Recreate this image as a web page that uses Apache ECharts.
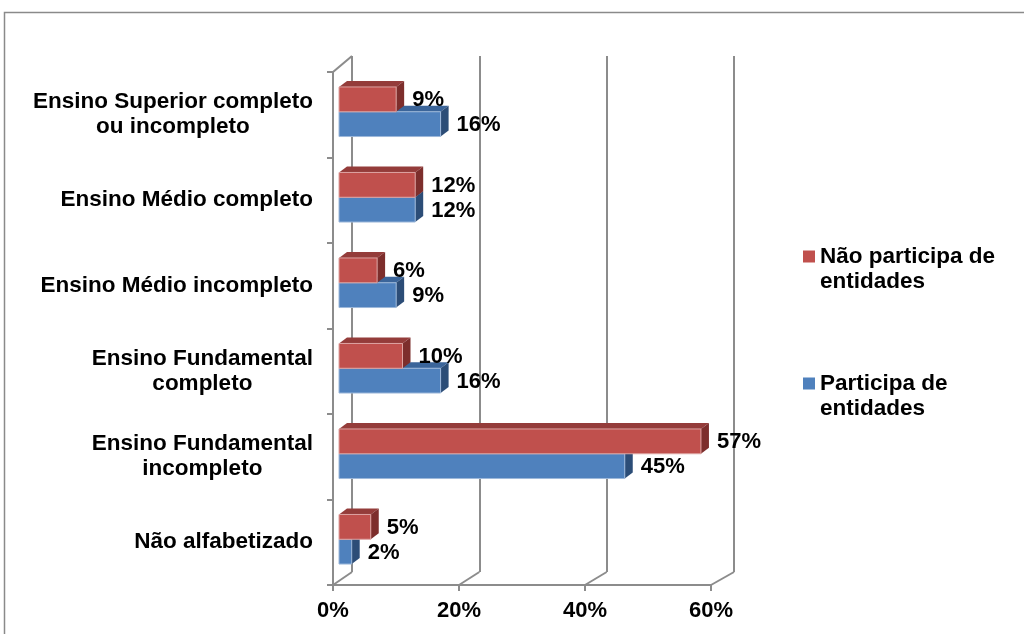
<!DOCTYPE html>
<html><head><meta charset="utf-8">
<script src="https://cdn.jsdelivr.net/npm/echarts@6/dist/echarts.min.js"></script>
<style>html,body{margin:0;padding:0;background:#fff}#c{width:1024px;height:634px}</style>
</head><body><div id="c"></div>
<script>
const categories = ['Ensino Superior completo\nou incompleto','Ensino Médio completo','Ensino Médio incompleto','Ensino Fundamental\ncompleto','Ensino Fundamental\nincompleto','Não alfabetizado'];
const participa = [16,12,9,16,45,2];
const naoParticipa = [9,12,6,10,57,5];
const xTicks = [0,20,40,60];
const seriesNames = ['Participa de\nentidades','Não participa de\nentidades'];

const FONT = "'Liberation Sans', Arial, sans-serif";
const GRAY = '#8c8c8c';
const palBlue = {front:'#4F81BD', top:'#3B659A', side:'#2C4D77', edge:'#9DB8DA'};
const palRed = {front:'#C0504D', top:'#943C3A', side:'#7D2E2C', edge:'#DDA3A1'};

function barRender(pal, upper){
  return function(params, api){
    const v = api.value(0), idx = api.value(1);
    const p0 = api.coord([0, idx]);
    const p1 = api.coord([v, idx]);
    const band = api.size([0,1])[1];
    const h = band*0.29;
    const yTop = upper ? p0[1]-3-h : p0[1]-3;
    const x0 = p0[0], x1 = p1[0];
    const dx = 8, dy = -6;
    return {type:'group', children:[
      {type:'polygon', shape:{points:[[x0,yTop],[x1,yTop],[x1+dx,yTop+dy],[x0+dx,yTop+dy]]}, style:{fill:pal.top}},
      {type:'polygon', shape:{points:[[x1,yTop],[x1+dx,yTop+dy],[x1+dx,yTop+h+dy],[x1,yTop+h]]}, style:{fill:pal.side}},
      {type:'rect', shape:{x:x0,y:yTop,width:x1-x0,height:h}, style:{fill:pal.front, stroke:pal.edge, lineWidth:1}},
      {type:'text', style:{text:v+'%', x:x1+16, y:yTop+h/2+1, verticalAlign:'middle', align:'left', fontSize:22, fontWeight:'bold', fontFamily:FONT, fill:'#000'}}
    ]};
  };
}

const option = {
  animation:false,
  backgroundColor:'#fff',
  graphic:[{type:'rect', shape:{x:4.5,y:12.5,width:1200,height:800}, style:{fill:'none', stroke:'#8a8a8a', lineWidth:1.5}, z:-10}],
  legend:{
    orient:'vertical', left:803, top:219, padding:0, itemWidth:12, itemHeight:12, itemGap:52, icon:'rect', selectedMode:false,
    data:[seriesNames[1], seriesNames[0]],
    formatter:function(name){ return '\n'+name; },
    textStyle:{fontSize:22.5, fontWeight:'bold', fontFamily:FONT, color:'#000', lineHeight:25}
  },
  grid:[
    {left:333, top:72, width:378, height:513},
    {left:352, top:56, width:382, height:516},
    {left:339, top:72, width:381, height:513}
  ],
  xAxis:[
    {gridIndex:0, type:'value', min:0, max:60, interval:20,
     axisLine:{show:true, lineStyle:{color:GRAY, width:2}},
     axisTick:{show:true, length:6, lineStyle:{color:GRAY, width:2}},
     splitLine:{show:false},
     axisLabel:{formatter:'{value}%', fontSize:22, fontWeight:'bold', fontFamily:FONT, color:'#000', margin:15}},
    {gridIndex:1, type:'value', min:0, max:60, interval:20,
     axisLine:{show:false}, axisTick:{show:false}, axisLabel:{show:false},
     splitLine:{show:true, lineStyle:{color:GRAY, width:2}}},
    {gridIndex:2, type:'value', min:0, max:60, show:false}
  ],
  yAxis:[
    {gridIndex:0, type:'category', data:categories, inverse:true,
     axisLine:{show:true, lineStyle:{color:GRAY, width:2}},
     axisTick:{show:true, length:6, alignWithLabel:false, lineStyle:{color:GRAY, width:2}},
     splitLine:{show:false},
     axisLabel:{margin:20, color:'#000',
       formatter:function(val){ return val.split('\n').map(l=>'{c|'+l+'}').join('\n'); },
       rich:{c:{align:'center', fontSize:22.5, fontWeight:'bold', fontFamily:FONT, color:'#000', lineHeight:25}}}},
    {gridIndex:1, type:'category', data:categories, inverse:true, show:false},
    {gridIndex:2, type:'category', data:categories, inverse:true, show:false}
  ],
  series:[
    {type:'custom', name:'walls', xAxisIndex:0, yAxisIndex:0, silent:true,
     data:xTicks.map(v=>[v,0]),
     renderItem:function(params, api){
       const v = api.value(0);
       const x = api.coord([v,0])[0];
       const cs = params.coordSys;
       const bottom = cs.y+cs.height;
       const children = [{type:'line', shape:{x1:x,y1:bottom,x2:x+19+0.067*v,y2:bottom-13}, style:{stroke:GRAY,lineWidth:2}}];
       if (v===0) children.push({type:'line', shape:{x1:x,y1:cs.y,x2:x+19,y2:cs.y-16}, style:{stroke:GRAY,lineWidth:2}});
       return {type:'group', children:children};
     }},
    {type:'custom', name:seriesNames[0], xAxisIndex:2, yAxisIndex:2, itemStyle:{color:palBlue.front},
     encode:{x:0,y:1}, data:participa.map((v,i)=>[v,i]), renderItem:barRender(palBlue,false)},
    {type:'custom', name:seriesNames[1], xAxisIndex:2, yAxisIndex:2, itemStyle:{color:palRed.front},
     encode:{x:0,y:1}, data:naoParticipa.map((v,i)=>[v,i]), renderItem:barRender(palRed,true)}
  ]
};
const chart = echarts.init(document.getElementById('c'), null, {renderer:'canvas'});
chart.setOption(option);
</script>
</body></html>
